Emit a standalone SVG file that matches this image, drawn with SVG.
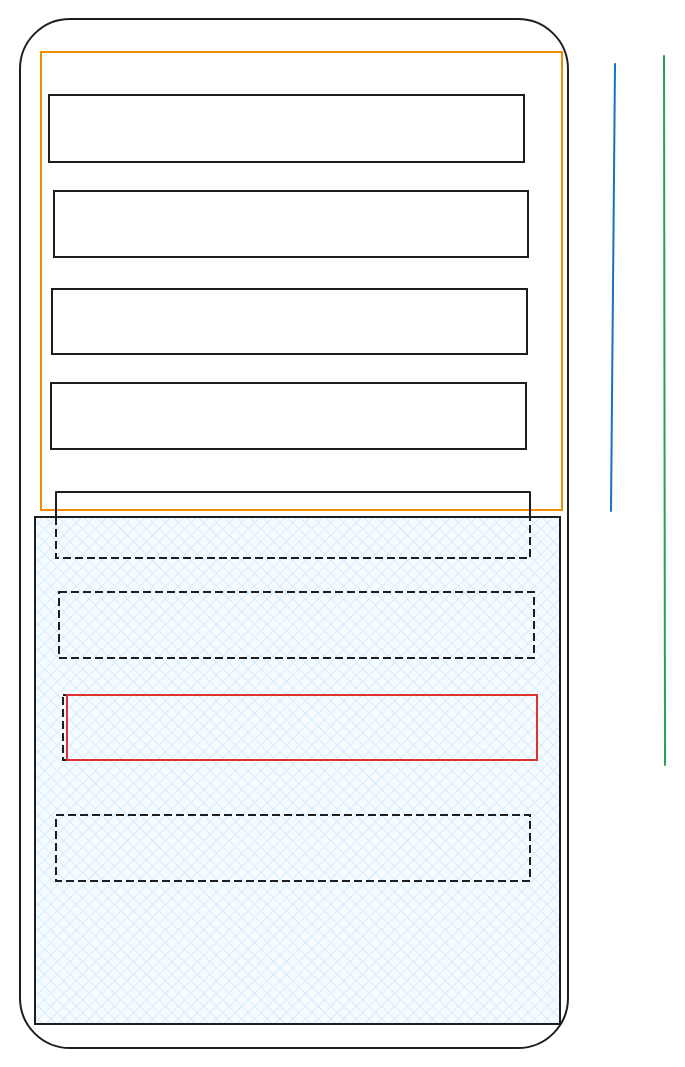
<svg xmlns="http://www.w3.org/2000/svg" width="685" height="1067" viewBox="0 0 685 1067">
<style>
.sk{fill:none;stroke:#1e1e1e;stroke-width:2;stroke-linejoin:round}
.box{fill:#ffffff;stroke:#1e1e1e;stroke-width:2}
.dash{fill:none;stroke:#1e1e1e;stroke-width:2;stroke-dasharray:8 4}
</style>
<defs>
<pattern id="hatch" width="9" height="9" patternUnits="userSpaceOnUse" patternTransform="rotate(45)">
<rect width="9" height="9" fill="#f6fbff"/>
<line x1="0" y1="0" x2="0" y2="9" stroke="#cfe8fc" stroke-width="1.5"/>
<line x1="0" y1="0" x2="9" y2="0" stroke="#cfe8fc" stroke-width="1.5"/>
</pattern>
</defs>
<g id="outer">
<rect x="20" y="19" width="548" height="1029" rx="50" class="sk"/>
</g>
<g id="orange-frame">
<rect x="41" y="52" width="521" height="458" fill="none" stroke="#f08c00" stroke-width="2"/>
</g>
<g id="box1"><rect x="49" y="95" width="475" height="67" class="box"/></g>
<g id="box2"><rect x="54" y="191" width="474" height="66" class="box"/></g>
<g id="box3"><rect x="52" y="289" width="475" height="65" class="box"/></g>
<g id="box4"><rect x="51" y="383" width="475" height="66" class="box"/></g>
<g id="box5-top"><rect x="56" y="492" width="474" height="66" class="sk"/></g>
<g id="hatched-area">
<rect x="35" y="517" width="525" height="507" fill="url(#hatch)" stroke="#1e1e1e" stroke-width="2"/>
</g>
<g id="box5"><path d="M56 517 V558 H530 V517" class="dash"/></g>
<g id="box6"><rect x="59" y="592" width="475" height="66" class="dash"/></g>
<g id="box7">
<rect x="63" y="695" width="474" height="65" class="dash"/>
<rect x="67" y="695" width="470" height="65" fill="none" stroke="#e03131" stroke-width="2"/>
</g>
<g id="box8"><rect x="56" y="815" width="474" height="66" class="dash"/></g>
<g id="lines">
<line x1="615" y1="64" x2="611" y2="511" stroke="#1971c2" stroke-width="2" stroke-linecap="round"/>
<line x1="664" y1="56" x2="665" y2="765" stroke="#2f9e44" stroke-width="2" stroke-linecap="round"/>
</g>
</svg>
